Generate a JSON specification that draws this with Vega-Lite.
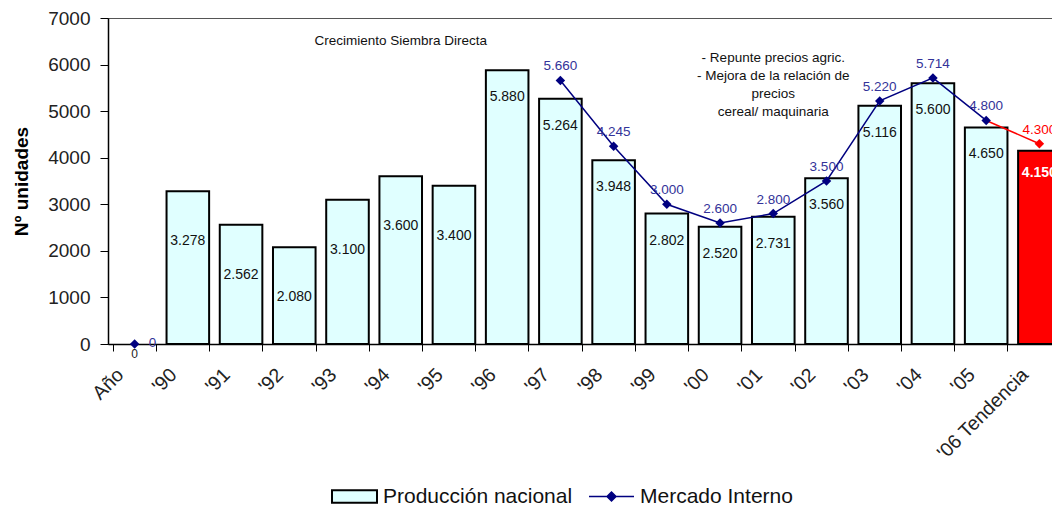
{
  "$schema": "https://vega.github.io/schema/vega-lite/v6.json",
  "width": 944,
  "height": 326,
  "autosize": {"type": "none"},
  "padding": {"left": 108, "top": 18, "right": 0, "bottom": 164},
  "background": "white",
  "config": {
    "locale": {"number": {"decimal": ",", "thousands": ".", "grouping": [3], "currency": ["", " €"]}},
    "font": "Liberation Sans",
    "view": {"stroke": "#555555", "strokeWidth": 1},
    "axis": {"grid": false, "domainColor": "#000000", "domainWidth": 1.5, "tickColor": "#000000", "labelColor": "#222222", "labelFont": "Liberation Sans", "titleFont": "Liberation Sans"},
    "legend": {"labelFont": "Liberation Sans", "labelLimit": 400}
  },
  "data": {
    "values": [
      {"cat": "Año", "prod": 0, "merc": 0},
      {"cat": "'90", "prod": 3278, "merc": null},
      {"cat": "'91", "prod": 2562, "merc": null},
      {"cat": "'92", "prod": 2080, "merc": null},
      {"cat": "'93", "prod": 3100, "merc": null},
      {"cat": "'94", "prod": 3600, "merc": null},
      {"cat": "'95", "prod": 3400, "merc": null},
      {"cat": "'96", "prod": 5880, "merc": null},
      {"cat": "'97", "prod": 5264, "merc": 5660},
      {"cat": "'98", "prod": 3948, "merc": 4245},
      {"cat": "'99", "prod": 2802, "merc": 3000},
      {"cat": "'00", "prod": 2520, "merc": 2600},
      {"cat": "'01", "prod": 2731, "merc": 2800},
      {"cat": "'02", "prod": 3560, "merc": 3500},
      {"cat": "'03", "prod": 5116, "merc": 5220},
      {"cat": "'04", "prod": 5600, "merc": 5714},
      {"cat": "'05", "prod": 4650, "merc": 4800},
      {"cat": "'06 Tendencia", "prod": 4150, "merc": 4300}
    ]
  },
  "encoding": {
    "x": {
      "field": "cat", "type": "nominal", "sort": null,
      "scale": {
        "domain": ["Año", "'90", "'91", "'92", "'93", "'94", "'95", "'96", "'97", "'98", "'99", "'00", "'01", "'02", "'03", "'04", "'05", "'06 Tendencia"],
        "range": [0, 958], "paddingInner": 0.2, "paddingOuter": 0.1
      },
      "axis": {"title": null, "labelAngle": -45, "labelFontSize": 19.5, "labelPadding": 14, "labelOffset": -21, "tickBand": "extent", "tickSize": 7, "labelColor": "#222222"}
    }
  },
  "layer": [
    {
      "transform": [{"filter": "datum.prod > 0"}],
      "mark": {"type": "bar", "stroke": "#000000", "strokeWidth": 2},
      "encoding": {
        "y": {"field": "prod", "type": "quantitative", "scale": {"domain": [0, 7000], "nice": false},
          "axis": {"values": [0, 1000, 2000, 3000, 4000, 5000, 6000, 7000], "format": "d", "labelFontSize": 19, "tickSize": 8, "labelPadding": 10, "title": "Nº unidades", "titleFontSize": 19, "titleFontWeight": "bold", "titleColor": "#000000", "titlePadding": 16}},
        "fill": {
          "datum": "Producción nacional",
          "condition": {"test": "datum.cat == \"'06 Tendencia\"", "value": "#FF0000"},
          "scale": {"domain": ["Producción nacional"], "range": ["#E0FFFF"]},
          "legend": {
            "title": null, "orient": "none", "direction": "horizontal", "legendX": 223, "legendY": 455,
            "labelFontSize": 21, "labelColor": "#111111", "symbolSize": 2025, "labelOffset": 5,
            "symbolType": "M-1,-0.28H1V0.28H-1Z", "symbolStrokeColor": "#000000", "symbolStrokeWidth": 2, "symbolOpacity": 1
          }
        }
      }
    },
    {
      "transform": [{"filter": {"field": "cat", "oneOf": ["'90", "'91", "'92", "'93", "'94", "'95"]}}],
      "mark": {"type": "text", "fontSize": 14, "dy": 50, "baseline": "middle", "color": "#111111"},
      "encoding": {"y": {"field": "prod", "type": "quantitative"}, "text": {"field": "prod", "type": "quantitative", "format": ",d"}}
    },
    {
      "transform": [{"filter": {"field": "cat", "oneOf": ["'96", "'97", "'98", "'99", "'00", "'01", "'02", "'03", "'04", "'05"]}}],
      "mark": {"type": "text", "fontSize": 14, "dy": 27, "baseline": "middle", "color": "#111111"},
      "encoding": {"y": {"field": "prod", "type": "quantitative"}, "text": {"field": "prod", "type": "quantitative", "format": ",d"}}
    },
    {
      "transform": [{"filter": {"field": "cat", "oneOf": ["'06 Tendencia"]}}],
      "mark": {"type": "text", "fontSize": 14, "fontWeight": "bold", "dy": 22, "baseline": "middle", "color": "#FFFFFF"},
      "encoding": {"y": {"field": "prod", "type": "quantitative"}, "text": {"field": "prod", "type": "quantitative", "format": ",d"}}
    },
    {
      "transform": [{"filter": "datum.cat == 'Año'"}],
      "mark": {"type": "text", "fontSize": 12, "dy": 10, "baseline": "middle", "color": "#222222"},
      "encoding": {"y": {"field": "prod", "type": "quantitative"}, "text": {"field": "prod", "type": "quantitative", "format": ",d"}}
    },
    {
      "transform": [{"filter": {"field": "cat", "oneOf": ["'97", "'98", "'99", "'00", "'01", "'02", "'03", "'04", "'05"]}}],
      "mark": {"type": "line", "strokeWidth": 1.5},
      "encoding": {
        "y": {"field": "merc", "type": "quantitative"},
        "stroke": {
          "datum": "Mercado Interno",
          "scale": {"domain": ["Mercado Interno"], "range": ["#000080"]},
          "legend": {
            "title": null, "orient": "none", "direction": "horizontal", "legendX": 480, "legendY": 455,
            "labelFontSize": 21, "labelColor": "#111111", "symbolSize": 2025, "labelOffset": 5,
            "symbolType": "M-1,0H1M-0.2,0L0,-0.2L0.2,0L0,0.2Z", "symbolFillColor": "#000080", "symbolStrokeWidth": 1.5, "symbolOpacity": 1
          }
        }
      }
    },
    {
      "transform": [{"filter": {"field": "cat", "oneOf": ["'05", "'06 Tendencia"]}}],
      "mark": {"type": "line", "color": "#FF0000", "strokeWidth": 1.5},
      "encoding": {"y": {"field": "merc", "type": "quantitative"}}
    },
    {
      "transform": [{"filter": "isValid(datum.merc)"}],
      "mark": {"type": "point", "shape": "diamond", "filled": true, "size": 90, "opacity": 1},
      "encoding": {
        "y": {"field": "merc", "type": "quantitative"},
        "fill": {"condition": {"test": "datum.cat == \"'06 Tendencia\"", "value": "#FF0000"}, "value": "#000080"}
      }
    },
    {
      "transform": [{"filter": "isValid(datum.merc) && datum.cat != 'Año'"}],
      "mark": {"type": "text", "fontSize": 13.5, "dy": -14, "baseline": "middle"},
      "encoding": {
        "y": {"field": "merc", "type": "quantitative"},
        "text": {"field": "merc", "type": "quantitative", "format": ",d"},
        "color": {"condition": {"test": "datum.cat == \"'06 Tendencia\"", "value": "#FF0000"}, "value": "#333399"}
      }
    },
    {
      "transform": [{"filter": "datum.cat == 'Año'"}],
      "mark": {"type": "text", "fontSize": 13.5, "dx": 18, "dy": -1, "baseline": "middle", "color": "#333399"},
      "encoding": {
        "y": {"field": "merc", "type": "quantitative"},
        "text": {"field": "merc", "type": "quantitative", "format": ",d"}
      }
    },
    {
      "data": {"values": [
        {"cat": "'94", "ny": 6530, "note": "Crecimiento Siembra Directa"},
        {"cat": "'01", "ny": 6160, "note": "- Repunte precios agric.\n- Mejora de la relación de\nprecios\ncereal/ maquinaria"}
      ]},
      "mark": {"type": "text", "fontSize": 13.5, "lineBreak": "\n", "lineHeight": 18, "baseline": "top", "color": "#111111", "dy": -6},
      "encoding": {
        "y": {"field": "ny", "type": "quantitative"},
        "text": {"field": "note", "type": "nominal"}
      }
    }
  ]
}
